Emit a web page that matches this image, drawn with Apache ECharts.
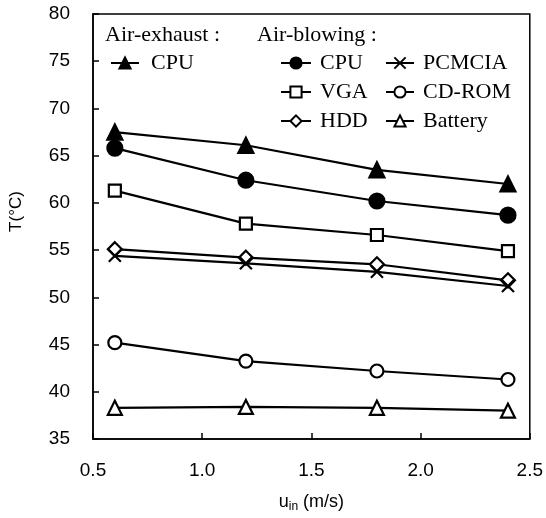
<!DOCTYPE html>
<html>
<head>
<meta charset="utf-8">
<script src="https://cdn.jsdelivr.net/npm/echarts@6/dist/echarts.min.js"></script>
<style>html,body{margin:0;padding:0;background:#fff}#c{width:546px;height:518px}</style>
</head>
<body>
<div id="c"></div>
<script>
const xValues = [0.6, 1.2, 1.8, 2.4];
const exhaustCPU = [67.5, 66.1, 63.5, 62.0];
const blowCPU = [65.8, 62.4, 60.2, 58.7];
const blowVGA = [61.3, 57.8, 56.6, 54.9];
const blowHDD = [55.1, 54.2, 53.5, 51.8];
const blowPCMCIA = [54.4, 53.6, 52.7, 51.2];
const blowCDROM = [45.2, 43.25, 42.2, 41.3];
const blowBattery = [38.3, 38.4, 38.3, 38.0];
const xTickLabels = ['0.5', '1.0', '1.5', '2.0', '2.5'];
const yTickLabels = ['35', '40', '45', '50', '55', '60', '65', '70', '75', '80'];

const pair = arr => xValues.map((x, i) => [x, arr[i]]);
const crossPath = 'path://M0,0 L10,10 M10,0 L0,10';

function mk(name, data, symbol, size, filled) {
  return {
    name: name, type: 'line', data: pair(data),
    symbol: symbol, symbolSize: size, showAllSymbol: true,
    lineStyle: { color: '#000', width: 2.2 },
    itemStyle: { color: filled ? '#000' : '#fff', borderColor: '#000', borderWidth: 2.2 },
    z: 3
  };
}

const chart = echarts.init(document.getElementById('c'));
const serif = 'Liberation Serif';
const sans = 'Liberation Sans';
const legText = { fontFamily: serif, fontSize: 22, color: '#000', padding: [0, 0, 0, 4] };
const nameMap = { 'exhaust CPU': 'CPU' };

chart.setOption({
  animation: false,
  backgroundColor: '#fff',
  grid: { left: 88, right: 15, top: 14, bottom: 74, show: true, borderColor: '#000', borderWidth: 1.5 },
  xAxis: {
    type: 'value', min: 0.5, max: 2.5, interval: 0.5,
    axisLine: { lineStyle: { color: '#000', width: 1.5 } },
    axisTick: { inside: true, length: 6, lineStyle: { color: '#000', width: 1.5 } },
    splitLine: { show: false },
    axisLabel: { color: '#000', fontFamily: sans, fontSize: 19, margin: 22,
      formatter: v => xTickLabels[Math.round((v - 0.5) / 0.5)] },
    name: '{a|u}{b|in}{a| (m/s)}', nameLocation: 'middle', nameGap: 52,
    nameTextStyle: { rich: {
      a: { fontFamily: sans, fontSize: 18, color: '#000' },
      b: { fontFamily: sans, fontSize: 12, color: '#000', verticalAlign: 'bottom', padding: [10, 0, 0, 0] }
    } }
  },
  yAxis: {
    type: 'value', min: 35, max: 80, interval: 5,
    axisLine: { lineStyle: { color: '#000', width: 1.5 } },
    axisTick: { inside: true, length: 6, lineStyle: { color: '#000', width: 1.5 } },
    splitLine: { show: false },
    axisLabel: { color: '#000', fontFamily: sans, fontSize: 19, margin: 23,
      formatter: v => yTickLabels[Math.round((v - 35) / 5)] },
    name: 'T(°C)', nameLocation: 'middle', nameGap: 68, nameRotate: 90,
    nameTextStyle: { fontFamily: sans, fontSize: 17, color: '#000', padding: [0, 0, 0, 30] }
  },
  legend: [
    { left: 110, top: 52, orient: 'vertical', padding: 0, itemWidth: 28, itemHeight: 14, itemGap: 7,
      data: ['exhaust CPU'], textStyle: Object.assign({}, legText, { padding: [0, 0, 0, 7] }),
      formatter: n => nameMap[n] || n, selectedMode: false },
    { left: 280, top: 52, orient: 'vertical', padding: 0, itemWidth: 30, itemHeight: 14, itemGap: 7,
      data: ['CPU', 'VGA', 'HDD'], textStyle: legText, selectedMode: false },
    { left: 385, top: 52, orient: 'vertical', padding: 0, itemWidth: 28, itemHeight: 14, itemGap: 7,
      data: ['PCMCIA', 'CD-ROM', 'Battery'], textStyle: legText, selectedMode: false }
  ],
  graphic: [
    { type: 'text', left: 105, top: 24, style: { text: 'Air-exhaust :', font: '22px "Liberation Serif"', fill: '#000' } },
    { type: 'text', left: 257, top: 24, style: { text: 'Air-blowing :', font: '22px "Liberation Serif"', fill: '#000' } }
  ],
  series: [
    mk('exhaust CPU', exhaustCPU, 'triangle', 15, true),
    mk('CPU', blowCPU, 'circle', 15, true),
    mk('VGA', blowVGA, 'rect', 12, false),
    mk('HDD', blowHDD, 'diamond', 14, false),
    mk('PCMCIA', blowPCMCIA, crossPath, 12, true),
    mk('CD-ROM', blowCDROM, 'circle', 13, false),
    mk('Battery', blowBattery, 'triangle', 14, false)
  ]
});
</script>
</body>
</html>
